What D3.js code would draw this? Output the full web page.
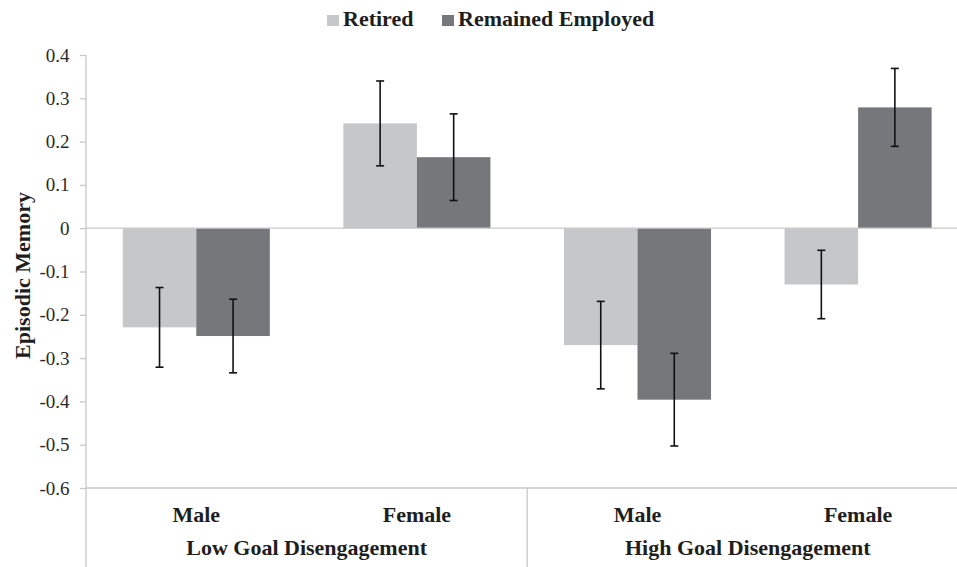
<!DOCTYPE html>
<html>
<head>
<meta charset="utf-8">
<script src="https://cdn.jsdelivr.net/npm/d3@7"></script>
<style>
  html, body { margin: 0; padding: 0; background: #fff; }
  svg { display: block; font-family: "Liberation Serif", "Times New Roman", serif; }
</style>
</head>
<body>
<svg id="chart" width="957" height="567"></svg>
<script>
// ---- data ----
const groups = ["Low Goal Disengagement", "High Goal Disengagement"];
const categories = ["Male", "Female", "Male", "Female"];
const seriesNames = ["Retired", "Remained Employed"];
const retired = [-0.229, 0.242, -0.270, -0.130];
const retiredErr = [0.092, 0.098, 0.101, 0.079];
const employed = [-0.249, 0.164, -0.396, 0.279];
const employedErr = [0.085, 0.100, 0.107, 0.090];
const yTicks = [0.4, 0.3, 0.2, 0.1, 0, -0.1, -0.2, -0.3, -0.4, -0.5, -0.6];
const colors = ["#c6c7c9", "#76777b"];

// ---- layout ----
const svg = d3.select("#chart");
const W = 957, H = 567;
const left = 86, plotTop = 55, plotBottom = 488;
const bandW = 220.6;
const axisColor = "#c8c8c8";
const textColor = "#1e1e1e";

const x = d3.scaleBand().domain(d3.range(categories.length))
  .range([left, left + bandW * categories.length]).paddingInner(0).paddingOuter(0);
const inner = d3.scaleBand().domain([0, 1]).range([0, x.bandwidth()]).paddingInner(0).paddingOuter(0.5);
const y = d3.scaleLinear().domain([-0.6, 0.4]).range([plotBottom, plotTop]);

// y axis
const yAxis = d3.axisLeft(y).tickValues(yTicks).tickSize(6).tickPadding(10.5)
  .tickFormat(d => d === 0 ? "0" : d3.format(".1f")(d).replace("\u2212", "-"));
const gy = svg.append("g").attr("transform", `translate(${left},0)`).call(yAxis);
gy.attr("font-family", "Liberation Serif");
gy.select(".domain").remove();
gy.selectAll(".tick line").attr("stroke", axisColor).attr("stroke-width", 1.3);
gy.selectAll(".tick text").attr("font-family", "Liberation Serif").attr("font-size", 19).attr("fill", "#2a2a2a");

// vertical axis line (extends to bottom of category area)
svg.append("line").attr("x1", left).attr("x2", left).attr("y1", plotTop).attr("y2", H)
  .attr("stroke", axisColor).attr("stroke-width", 1.3);

const series = [
  { vals: retired, errs: retiredErr },
  { vals: employed, errs: employedErr }
];

// bars
series.forEach((s, si) => {
  svg.append("g").selectAll("rect").data(s.vals).join("rect")
    .attr("x", (d, i) => x(i) + inner(si))
    .attr("width", inner.bandwidth())
    .attr("y", d => y(Math.max(0, d)))
    .attr("height", d => Math.abs(y(d) - y(0)))
    .attr("fill", colors[si]);
});

// zero line and bottom axis line
svg.append("line").attr("x1", left).attr("x2", W).attr("y1", y(0)).attr("y2", y(0))
  .attr("stroke", axisColor).attr("stroke-width", 1.3);
svg.append("line").attr("x1", left).attr("x2", W).attr("y1", plotBottom).attr("y2", plotBottom)
  .attr("stroke", axisColor).attr("stroke-width", 1.3);

// error bars
series.forEach((s, si) => {
  const g = svg.append("g").attr("stroke", "#111").attr("stroke-width", 1.6);
  s.vals.forEach((v, i) => {
    const cx = x(i) + inner(si) + inner.bandwidth() / 2;
    const y1 = y(v + s.errs[i]), y2 = y(v - s.errs[i]);
    g.append("line").attr("x1", cx).attr("x2", cx).attr("y1", y1).attr("y2", y2);
    g.append("line").attr("x1", cx - 4).attr("x2", cx + 4).attr("y1", y1).attr("y2", y1);
    g.append("line").attr("x1", cx - 4).attr("x2", cx + 4).attr("y1", y2).attr("y2", y2);
  });
});

// group divider
svg.append("line").attr("x1", x(2)).attr("x2", x(2)).attr("y1", plotBottom).attr("y2", H)
  .attr("stroke", axisColor).attr("stroke-width", 1.3);

// category labels
svg.append("g").selectAll("text").data(categories).join("text")
  .attr("x", (d, i) => x(i) + x.bandwidth() / 2)
  .attr("y", 522)
  .attr("text-anchor", "middle").attr("font-weight", "bold").attr("font-size", 22).attr("fill", textColor)
  .text(d => d);

// group labels
svg.append("g").selectAll("text").data(groups).join("text")
  .attr("x", (d, gi) => (x(gi * 2) + x(gi * 2 + 1) + x.bandwidth()) / 2)
  .attr("y", 555)
  .attr("text-anchor", "middle").attr("font-weight", "bold").attr("font-size", 22).attr("fill", textColor)
  .text(d => d);

// y label
svg.append("text")
  .attr("transform", `translate(30,${(plotTop + plotBottom) / 2 + 4}) rotate(-90)`)
  .attr("text-anchor", "middle").attr("font-weight", "bold").attr("font-size", 22).attr("fill", textColor)
  .text("Episodic Memory");

// legend
const legendItems = [{ name: seriesNames[0], x: 327 }, { name: seriesNames[1], x: 442 }];
legendItems.forEach((it, i) => {
  svg.append("rect").attr("x", it.x).attr("y", 15).attr("width", 12).attr("height", 11).attr("fill", colors[i]);
  svg.append("text").attr("x", it.x + 16).attr("y", 26)
    .attr("font-weight", "bold").attr("font-size", 22).attr("fill", textColor).text(it.name);
});
</script>
</body>
</html>
